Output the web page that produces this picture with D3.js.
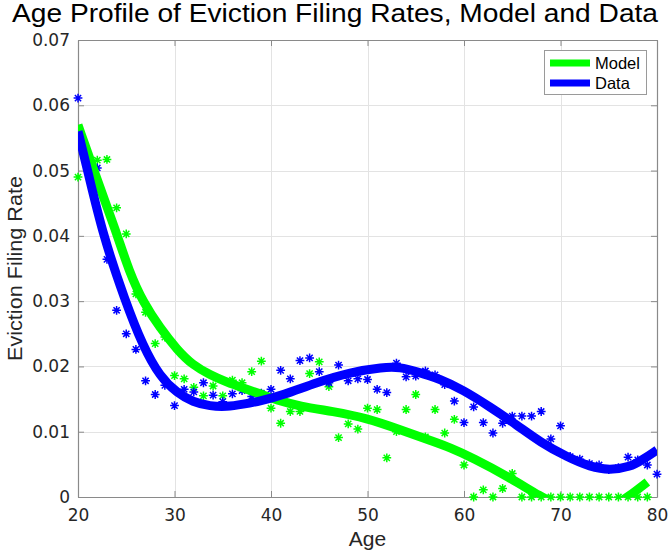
<!DOCTYPE html>
<html>
<head>
<meta charset="utf-8">
<script src="https://cdn.jsdelivr.net/npm/d3@7"></script>
<style>
  body { margin: 0; background: #fff; }
  svg { display: block; }
</style>
</head>
<body>
<svg id="chart" width="670" height="551"></svg>
<script>
// ---- data --------------------------------------------------------------------
const ages = d3.range(20, 81);

// scatter: model (green, ages 20..79) and data (blue, ages 20..80)
const modelPoints = [
  0.0490, 0.0513, 0.0516, 0.0517, 0.0443, 0.0403, 0.0311, 0.0283, 0.0235, 0.0245,
  0.0186, 0.0181, 0.0168, 0.0155, 0.0170, 0.0155, 0.0179, 0.0175, 0.0192, 0.0208,
  0.0136, 0.0113, 0.0131, 0.0131, 0.0189, 0.0207, 0.0169, 0.0091, 0.0112, 0.0104,
  0.0136, 0.0134, 0.0060, 0.0100, 0.0134, 0.0157, 0.0092, 0.0134, 0.0098, 0.0119,
  0.0049, 0.0000, 0.0011, 0.0000, 0.0013, 0.0036, 0.0000, 0.0000, 0.0000, 0.0000,
  0.0000, 0.0000, 0.0000, 0.0000, 0.0000, 0.0000, 0.0000, 0.0000, 0.0000, 0.0000
];
const dataPoints = [
  0.0611, 0.0511, 0.0504, 0.0364, 0.0286, 0.0250, 0.0226, 0.0178, 0.0157, 0.0171,
  0.0140, 0.0165, 0.0161, 0.0175, 0.0156, 0.0146, 0.0158, 0.0163, 0.0154, 0.0159,
  0.0165, 0.0194, 0.0181, 0.0209, 0.0213, 0.0192, 0.0175, 0.0202, 0.0178, 0.0181,
  0.0180, 0.0165, 0.0160, 0.0205, 0.0184, 0.0185, 0.0193, 0.0187, 0.0172, 0.0147,
  0.0114, 0.0138, 0.0114, 0.0098, 0.0113, 0.0124, 0.0124, 0.0124, 0.0131, 0.0089,
  0.0109, 0.0062, 0.0058, 0.0051, 0.0049, 0.0042, 0.0045, 0.0061, 0.0057, 0.0049,
  0.0035
];

// fitted profiles (age, rate), sampled off the thick lines
const modelFitAge  = [20, 22.0, 23.9, 25.3, 26.8, 28.5, 30.3, 31.9, 33.7, 35.4, 37.1, 38.9, 40.5, 43.0, 46.4, 49.9, 53.4, 56.8, 58.5, 60.9, 64.6, 68.0, 70.0, 72.0, 74.0, 75.5, 77.0, 79.0];
const modelFitRate = [0.0570, 0.0485, 0.0409, 0.0345, 0.0297, 0.0259, 0.0225, 0.0202, 0.0187, 0.0176, 0.0167, 0.0158, 0.0149, 0.0139, 0.0131, 0.0121, 0.0103, 0.0085, 0.0076, 0.0060, 0.0031, 0.0000, -0.0015, -0.0024, -0.0023, -0.0014, 0.0000, 0.0023];
const dataFitAge  = [20, 21.0, 22.6, 24.9, 26.7, 28.5, 30.3, 31.9, 33.7, 35.4, 37.1, 38.9, 41.2, 44.8, 48.2, 51.6, 53.4, 55.1, 57.5, 59.9, 62.7, 65.5, 67.9, 70.7, 73.1, 75.1, 77.2, 78.5, 80];
const dataFitRate = [0.0560, 0.0500, 0.0400, 0.0300, 0.0232, 0.0184, 0.0159, 0.01455, 0.0139, 0.0138, 0.0142, 0.0147, 0.0156, 0.0176, 0.0191, 0.0199, 0.0199, 0.0192, 0.0181, 0.0164, 0.0138, 0.0110, 0.0084, 0.0061, 0.0046, 0.0041, 0.0046, 0.0057, 0.0072];

const xTicks = d3.range(20, 81, 10);
const yTicks = d3.range(0, 0.0701, 0.01);

const GREEN = '#00ff00', BLUE = '#0000ff';

// ---- layout -----------------------------------------------------------------
const svg = d3.select('#chart');
const L = 78, R = 657, T = 40, B = 497;
const x = d3.scaleLinear().domain([20, 80]).range([L, R]);
const y = d3.scaleLinear().domain([0, 0.07]).range([B, T]);

svg.append('defs').append('clipPath').attr('id', 'plot-clip')
  .append('rect').attr('x', L).attr('y', T).attr('width', R - L).attr('height', B - T);

// grid
const grid = svg.append('g').attr('stroke', '#e3e3e3').attr('stroke-width', 1);
grid.selectAll('line.gx').data(xTicks.slice(1, -1)).join('line')
  .attr('x1', d => Math.round(x(d)) + 0.5).attr('x2', d => Math.round(x(d)) + 0.5)
  .attr('y1', T).attr('y2', B);
grid.selectAll('line.gy').data(yTicks.slice(1, -1)).join('line')
  .attr('y1', d => Math.round(y(d)) + 0.5).attr('y2', d => Math.round(y(d)) + 0.5)
  .attr('x1', L).attr('x2', R);

// axes (ticks point inward, box on all four sides)
const fmtY = d => d === 0 ? '0' : d3.format('.2f')(d);
function styleAxis(g) {
  g.select('.domain').attr('stroke', '#8a8a8a').attr('stroke-width', 1.2);
  g.selectAll('.tick line').attr('stroke', '#8a8a8a');
  g.selectAll('text').attr('fill', '#262626')
    .style('font-family', '"DejaVu Sans", sans-serif').style('font-size', '17px');
}
svg.append('g').attr('transform', `translate(0,${B})`)
  .call(d3.axisBottom(x).tickValues(xTicks).tickSize(-6).tickPadding(12).tickSizeOuter(0))
  .call(styleAxis);
svg.append('g').attr('transform', `translate(${L},0)`)
  .call(d3.axisLeft(y).tickValues(yTicks).tickFormat(fmtY).tickSize(-6).tickPadding(8).tickSizeOuter(0))
  .call(styleAxis);
svg.append('g').attr('transform', `translate(0,${T})`)
  .call(d3.axisTop(x).tickValues(xTicks).tickSize(-6).tickFormat('').tickSizeOuter(0))
  .call(styleAxis);
svg.append('g').attr('transform', `translate(${R},0)`)
  .call(d3.axisRight(y).tickValues(yTicks).tickSize(-6).tickFormat('').tickSizeOuter(0))
  .call(styleAxis);

// ---- asterisk markers -------------------------------------------------------
const star = (r => {
  const d = r * Math.SQRT1_2;
  return `M${-r},0L${r},0M0,${-r}L0,${r}M${-d},${-d}L${d},${d}M${-d},${d}L${d},${-d}`;
})(4.4);

function drawStars(vals, color) {
  svg.append('g').selectAll('path').data(vals).join('path')
    .attr('transform', (d, i) => `translate(${x(ages[i])},${y(d)})`)
    .attr('d', star).attr('fill', 'none').attr('stroke', color).attr('stroke-width', 1.5);
}
drawStars(modelPoints, GREEN);
drawStars(dataPoints, BLUE);

// ---- fitted lines -------------------------------------------------------------
const line = d3.line().x(d => x(d[0])).y(d => y(d[1])).curve(d3.curveBasis);
const lines = svg.append('g').attr('clip-path', 'url(#plot-clip)');
lines.append('path').datum(d3.zip(modelFitAge, modelFitRate))
  .attr('d', line).attr('fill', 'none').attr('stroke', GREEN).attr('stroke-width', 9);
lines.append('path').datum(d3.zip(dataFitAge, dataFitRate))
  .attr('d', line).attr('fill', 'none').attr('stroke', BLUE).attr('stroke-width', 9);

// ---- labels -----------------------------------------------------------------
svg.append('text').attr('x', 335).attr('y', 22).attr('text-anchor', 'middle')
  .attr('textLength', 646).attr('lengthAdjust', 'spacingAndGlyphs')
  .style('font-family', '"Liberation Sans", Arial, sans-serif').style('font-size', '25px')
  .attr('fill', '#000').text('Age Profile of Eviction Filing Rates, Model and Data');

svg.append('text').attr('x', (L + R) / 2).attr('y', 546).attr('text-anchor', 'middle')
  .style('font-family', '"Liberation Sans", Arial, sans-serif').style('font-size', '21px')
  .attr('fill', '#262626').text('Age');

svg.append('text').attr('transform', `translate(22,${(T + B) / 2}) rotate(-90)`)
  .attr('text-anchor', 'middle')
  .attr('textLength', 185).attr('lengthAdjust', 'spacingAndGlyphs')
  .style('font-family', '"Liberation Sans", Arial, sans-serif').style('font-size', '21px')
  .attr('fill', '#262626').text('Eviction Filing Rate');

// ---- legend -----------------------------------------------------------------
const legendItems = [{ name: 'Model', color: GREEN }, { name: 'Data', color: BLUE }];
const lg = svg.append('g');
lg.append('rect').attr('x', 544.5).attr('y', 50.5).attr('width', 102).attr('height', 44)
  .attr('fill', '#fff').attr('stroke', '#9a9a9a');
const row = lg.selectAll('g.item').data(legendItems).join('g')
  .attr('transform', (d, i) => `translate(0,${63 + i * 20})`);
row.append('line').attr('x1', 550).attr('x2', 590).attr('stroke', d => d.color).attr('stroke-width', 7);
row.append('text').attr('x', 595).attr('y', 6).text(d => d.name)
  .style('font-family', '"Liberation Sans", Arial, sans-serif').style('font-size', '16.5px')
  .attr('fill', '#000');
</script>
</body>
</html>
